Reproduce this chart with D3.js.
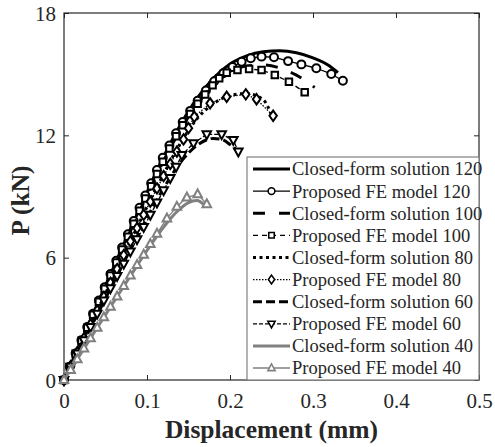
<!DOCTYPE html>
<html>
<head>
<meta charset="utf-8">
<script src="https://cdn.jsdelivr.net/npm/d3@7"></script>
<style>
  html, body { margin: 0; padding: 0; background: #fff; }
  svg { display: block; }
  svg text { font-family: 'Liberation Serif', serif !important; fill: #262626; }
  .tick-label { font-size: 21px; }
  .axis-title { font-size: 25.5px; font-weight: bold; }
  .legend-label { font-size: 18.5px; }
</style>
</head>
<body>
<svg id="chart" width="495" height="447"></svg>
<script>
// Axis ticks
const xTicks = [0, 0.1, 0.2, 0.3, 0.4, 0.5];
const xTickLabels = ["0", "0.1", "0.2", "0.3", "0.4", "0.5"];
const yTicks = [0, 6, 12, 18];
const yTickLabels = ["0", "6", "12", "18"];

// Closed-form solutions (displacement mm, load kN)
const cf120X = [0, 0.02, 0.04, 0.06, 0.08, 0.10, 0.12, 0.14, 0.16, 0.18, 0.20, 0.22, 0.24, 0.26, 0.28, 0.30, 0.32, 0.33];
const cf120P = [0, 1.85, 3.7, 5.55, 7.4, 9.2, 10.95, 12.5, 13.8, 14.8, 15.5, 15.9, 16.1, 16.15, 16.05, 15.8, 15.4, 15.07];
const cf100X = [0, 0.02, 0.04, 0.06, 0.08, 0.10, 0.12, 0.14, 0.16, 0.18, 0.20, 0.22, 0.24, 0.26, 0.28, 0.302];
const cf100P = [0, 1.83, 3.66, 5.5, 7.3, 9.05, 10.75, 12.25, 13.5, 14.45, 15.1, 15.4, 15.45, 15.3, 14.95, 14.35];
const cf80X = [0, 0.02, 0.04, 0.06, 0.08, 0.10, 0.12, 0.14, 0.16, 0.18, 0.20, 0.22, 0.24, 0.25];
const cf80P = [0, 1.7, 3.4, 5.1, 6.8, 8.5, 10.1, 11.6, 12.8, 13.55, 13.95, 14.05, 13.75, 13.0];
const cf60X = [0, 0.02, 0.04, 0.06, 0.08, 0.10, 0.12, 0.14, 0.16, 0.18, 0.19, 0.20, 0.212];
const cf60P = [0, 1.6, 3.2, 4.8, 6.4, 7.95, 9.4, 10.65, 11.5, 11.85, 11.8, 11.55, 11.1];
const cf40X = [0, 0.02, 0.04, 0.06, 0.08, 0.10, 0.12, 0.13, 0.14, 0.15, 0.16, 0.17];
const cf40P = [0, 1.28, 2.56, 3.84, 5.1, 6.35, 7.5, 8.0, 8.4, 8.7, 8.8, 8.55];

// Proposed FE model results
const fe120X = [0, 0.007, 0.014, 0.021, 0.028, 0.035, 0.042, 0.049, 0.056, 0.063, 0.070, 0.077, 0.084, 0.091, 0.098, 0.105, 0.112, 0.119, 0.127, 0.135, 0.143, 0.152, 0.161, 0.171, 0.181, 0.192, 0.203, 0.214, 0.225, 0.238, 0.253, 0.270, 0.286, 0.304, 0.322, 0.336];
const fe120P = [0, 0.65, 1.3, 1.95, 2.6, 3.25, 3.9, 4.55, 5.2, 5.85, 6.5, 7.15, 7.8, 8.45, 9.05, 9.65, 10.3, 10.9, 11.5, 12.1, 12.65, 13.2, 13.7, 14.2, 14.65, 15.05, 15.35, 15.61, 15.78, 15.86, 15.83, 15.64, 15.48, 15.29, 15.01, 14.68];
const fe100X = [0, 0.007, 0.014, 0.021, 0.028, 0.035, 0.042, 0.049, 0.056, 0.063, 0.070, 0.077, 0.084, 0.091, 0.098, 0.105, 0.112, 0.119, 0.127, 0.135, 0.143, 0.152, 0.161, 0.170, 0.179, 0.187, 0.196, 0.209, 0.223, 0.238, 0.254, 0.271, 0.290];
const fe100P = [0, 0.64, 1.28, 1.92, 2.56, 3.2, 3.84, 4.48, 5.12, 5.76, 6.4, 7.03, 7.66, 8.3, 8.9, 9.5, 10.1, 10.7, 11.35, 11.95, 12.5, 13.05, 13.55, 14.0, 14.45, 14.8, 15.07, 15.2, 15.25, 15.2, 14.96, 14.63, 14.11];
const fe80X = [0, 0.008, 0.016, 0.024, 0.032, 0.040, 0.048, 0.056, 0.064, 0.072, 0.080, 0.088, 0.096, 0.104, 0.112, 0.120, 0.128, 0.136, 0.144, 0.150, 0.157, 0.176, 0.196, 0.219, 0.232, 0.252];
const fe80P = [0, 0.68, 1.36, 2.04, 2.72, 3.4, 4.08, 4.76, 5.44, 6.12, 6.8, 7.45, 8.1, 8.75, 9.4, 10.0, 10.6, 11.2, 11.8, 12.35, 12.91, 13.57, 13.89, 14.01, 13.77, 12.96];
const fe60X = [0, 0.008, 0.016, 0.024, 0.032, 0.040, 0.048, 0.056, 0.064, 0.072, 0.080, 0.088, 0.096, 0.104, 0.112, 0.120, 0.128, 0.135, 0.142, 0.156, 0.172, 0.190, 0.204, 0.210];
const fe60P = [0, 0.65, 1.3, 1.95, 2.6, 3.25, 3.9, 4.5, 5.1, 5.7, 6.3, 6.9, 7.5, 8.1, 8.7, 9.3, 9.9, 10.45, 11.03, 11.61, 12.05, 12.05, 11.77, 11.2];
const fe40X = [0, 0.008, 0.016, 0.024, 0.032, 0.040, 0.048, 0.056, 0.064, 0.072, 0.080, 0.088, 0.096, 0.104, 0.112, 0.124, 0.136, 0.148, 0.161, 0.172];
const fe40P = [0, 0.5, 1.02, 1.55, 2.05, 2.57, 3.08, 3.6, 4.1, 4.62, 5.13, 5.65, 6.15, 6.67, 7.18, 7.93, 8.5, 8.96, 9.11, 8.63];

const legendLabels = [
  "Closed-form solution 120", "Proposed FE model 120",
  "Closed-form solution 100", "Proposed FE model 100",
  "Closed-form solution 80", "Proposed FE model 80",
  "Closed-form solution 60", "Proposed FE model 60",
  "Closed-form solution 40", "Proposed FE model 40"
];

const BLACK = "#000";
const GRAY = "#808080";

const zip = (xs, ps) => xs.map((x, i) => ({x, p: ps[i]}));

// Series definitions: data + styling
const series = [
  {data: zip(cf120X, cf120P), color: BLACK, width: 3, dash: null, marker: null, smooth: true},
  {data: zip(fe120X, fe120P), color: BLACK, width: 1.3, dash: null, marker: "circle"},
  {data: zip(cf100X, cf100P), color: BLACK, width: 3, dash: "12 14", marker: null, smooth: true},
  {data: zip(fe100X, fe100P), color: BLACK, width: 1.3, dash: "5 4", marker: "square"},
  {data: zip(cf80X, cf80P), color: BLACK, width: 3, dash: "3 3.5", marker: null, smooth: true},
  {data: zip(fe80X, fe80P), color: BLACK, width: 1.3, dash: "1.5 1.5", marker: "diamond"},
  {data: zip(cf60X, cf60P), color: BLACK, width: 3, dash: "9 4", marker: null, smooth: true},
  {data: zip(fe60X, fe60P), color: BLACK, width: 1.3, dash: "4 2", marker: "triangleDown"},
  {data: zip(cf40X, cf40P), color: GRAY, width: 3, dash: null, marker: null, smooth: true},
  {data: zip(fe40X, fe40P), color: GRAY, width: 1.3, dash: null, marker: "triangleUp"}
];

const svg = d3.select("#chart");
const M = {left: 64, right: 479, top: 13, bottom: 380};

const x = d3.scaleLinear().domain([0, 0.5]).range([M.left, M.right]);
const y = d3.scaleLinear().domain([0, 18]).range([M.bottom, M.top]);

// Marker symbol generators
function markerPath(kind) {
  switch (kind) {
    case "circle": return d3.symbol(d3.symbolCircle, 50)();
    case "square": return d3.symbol(d3.symbolSquare, 42)();
    case "diamond": return "M0,-5.2L3.7,0L0,5.2L-3.7,0Z";
    case "triangleUp": return "M0,-4.8L4.3,3.1L-4.3,3.1Z";
    case "triangleDown": return "M0,4.8L4.3,-3.1L-4.3,-3.1Z";
  }
  return null;
}

// Axes (ticks pointing inward, box style)
const axisColor = "#262626";

const gx = svg.append("g").attr("transform", `translate(0,${M.bottom})`)
  .call(d3.axisBottom(x).tickValues(xTicks).tickFormat((d, i) => xTickLabels[i])
    .tickSizeInner(-5).tickSizeOuter(0).tickPadding(13));
const gxTop = svg.append("g").attr("transform", `translate(0,${M.top})`)
  .call(d3.axisTop(x).tickValues(xTicks).tickFormat("").tickSizeInner(-5).tickSizeOuter(0));
const gy = svg.append("g").attr("transform", `translate(${M.left},0)`)
  .call(d3.axisLeft(y).tickValues(yTicks).tickFormat((d, i) => yTickLabels[i])
    .tickSizeInner(-5).tickSizeOuter(0).tickPadding(8));
const gyRight = svg.append("g").attr("transform", `translate(${M.right},0)`)
  .call(d3.axisRight(y).tickValues(yTicks).tickFormat("").tickSizeInner(-5).tickSizeOuter(0));

[gx, gxTop, gy, gyRight].forEach(g => {
  g.attr("font-family", null).attr("font-size", null);
  g.select(".domain").remove();
  g.selectAll(".tick line").attr("stroke", axisColor).attr("stroke-width", 1);
  g.selectAll(".tick text").attr("class", "tick-label");
});
gy.selectAll(".tick text").attr("dy", "0.34em");

// Plot frame
svg.append("rect")
  .attr("x", M.left).attr("y", M.top)
  .attr("width", M.right - M.left).attr("height", M.bottom - M.top)
  .attr("fill", "none").attr("stroke", axisColor).attr("stroke-width", 1.2);

// Data series
const plot = svg.append("g");
series.forEach(s => {
  const line = d3.line().x(d => x(d.x)).y(d => y(d.p))
    .curve(s.smooth ? d3.curveMonotoneX : d3.curveLinear);
  plot.append("path")
    .attr("d", line(s.data))
    .attr("fill", "none")
    .attr("stroke", s.color)
    .attr("stroke-width", s.width)
    .attr("stroke-dasharray", s.dash)
    .attr("stroke-linejoin", "round");
  if (s.marker) {
    plot.append("g").selectAll("path").data(s.data).join("path")
      .attr("d", markerPath(s.marker))
      .attr("transform", d => `translate(${x(d.x)},${y(d.p)})`)
      .attr("fill", "#fff")
      .attr("stroke", s.color)
      .attr("stroke-width", 2);
  }
});

// Axis titles
svg.append("text")
  .attr("class", "axis-title")
  .attr("x", (M.left + M.right) / 2).attr("y", 438)
  .attr("text-anchor", "middle")
  .text("Displacement (mm)");
svg.append("text")
  .attr("class", "axis-title")
  .attr("transform", `translate(29,${(M.top + M.bottom) / 2 + 4}) rotate(-90)`)
  .attr("text-anchor", "middle")
  .text("P (kN)");

// Legend
const legend = {x0: 247, y0: 157, x1: M.right, y1: M.bottom};
const lg = svg.append("g");
lg.append("rect")
  .attr("x", legend.x0).attr("y", legend.y0)
  .attr("width", legend.x1 - legend.x0).attr("height", legend.y1 - legend.y0)
  .attr("fill", "#fff").attr("stroke", "#808080").attr("stroke-width", 1.2);
const rowY = d3.scalePoint().domain(d3.range(legendLabels.length)).range([169, 368]);
series.forEach((s, i) => {
  const yy = rowY(i);
  lg.append("line")
    .attr("x1", 253).attr("x2", 290).attr("y1", yy).attr("y2", yy)
    .attr("stroke", s.color)
    .attr("stroke-width", s.width)
    .attr("stroke-dasharray", s.dash);
  if (s.marker) {
    lg.append("path")
      .attr("d", markerPath(s.marker))
      .attr("transform", `translate(271.5,${yy}) scale(0.85)`)
      .attr("fill", "#fff").attr("stroke", s.color).attr("stroke-width", 1.8);
  }
  lg.append("text")
    .attr("class", "legend-label")
    .attr("x", 292).attr("y", yy).attr("dy", "0.35em")
    .text(legendLabels[i]);
});
</script>
</body>
</html>
